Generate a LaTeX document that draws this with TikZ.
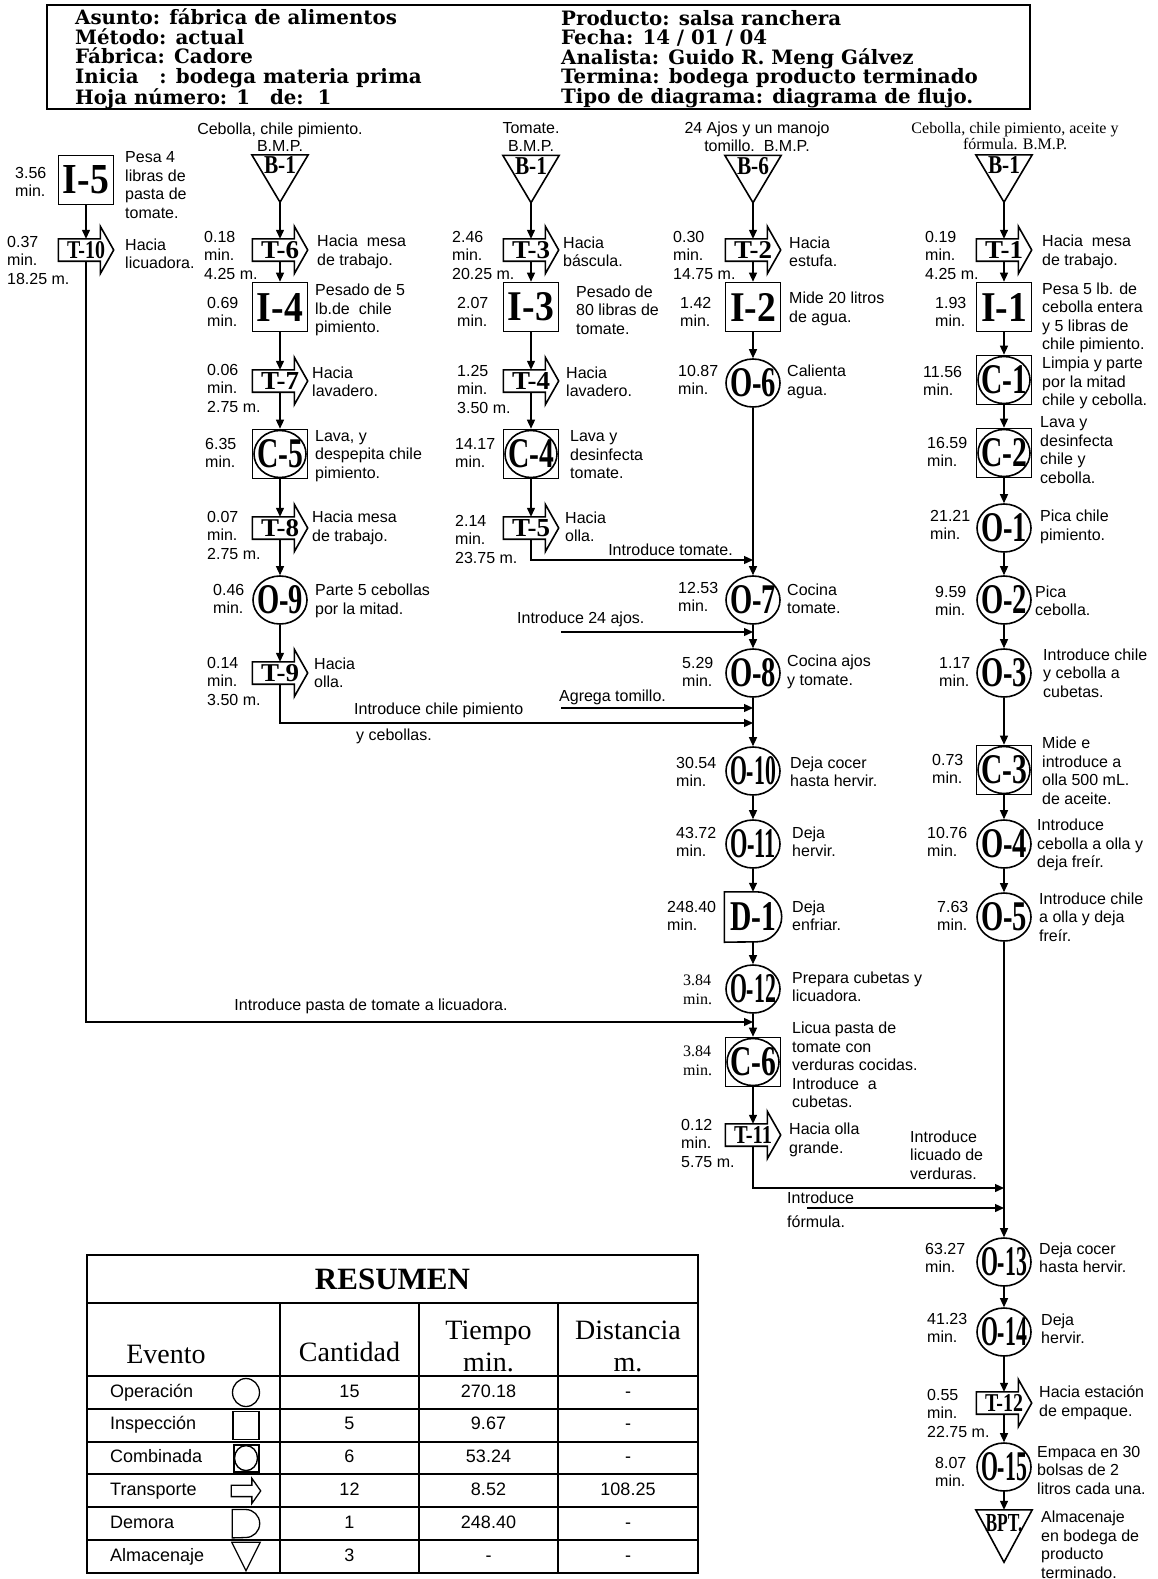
\documentclass[tikz,border=0pt]{standalone}
\usepackage{fontspec}
\usepackage{graphicx}
\setmainfont{Liberation Sans}
\newfontfamily\tnr{Liberation Serif}
\newfontfamily\hdrfont{DejaVu Serif}
\usetikzlibrary{shapes.geometric, arrows.meta, positioning, calc}
\newcommand{\lbl}{\fontsize{16}{18.5}\selectfont}
\newcommand{\lbls}{\tnr\fontsize{16}{19}\selectfont}
\newcommand{\capfont}{\fontsize{16}{17.5}\selectfont}
\newcommand{\capsfont}{\tnr\fontsize{16}{15.5}\selectfont}
\newcommand{\hdrsize}{\hdrfont\bfseries\fontsize{19.8}{19.5}\selectfont}
\newcommand{\tabbody}{\fontsize{18}{20}\selectfont}
\newcommand{\tabhead}{\tnr\fontsize{28}{32}\selectfont}
\newcommand{\tabtitle}{\tnr\bfseries\fontsize{31}{34}\selectfont}
\newcommand{\symT}[1]{\resizebox{38pt}{17pt}{\tnr\bfseries #1}}
\newcommand{\symB}[1]{\makebox[0pt]{\resizebox{46pt}{28pt}{\tnr\bfseries #1}}}
\newcommand{\symS}[2][32pt]{\raisebox{0pt}[17pt][27pt]{\resizebox{#1}{17pt}{\tnr\bfseries #2}}}

\begin{document}
\begin{tikzpicture}[x=1pt, y=1pt,
		flow/.style={-{Triangle[length=9pt, width=8pt]}, line width=1.3pt},
		shp/.style={draw, line width=1.6pt, inner sep=0pt},
		insp/.style={shp, rectangle, minimum width=55pt, minimum height=49pt},
		oper/.style={shp, ellipse, minimum width=54pt, minimum height=48pt},
		comb/.style={insp, path picture={\draw[line width=1.6pt]
				(path picture bounding box.center) ellipse [x radius=26pt, y radius=23.5pt];}},
		combs/.style={insp, minimum width=25pt, minimum height=27pt, line width=2pt,
			path picture={\draw[line width=1.4pt]
				(path picture bounding box.center) ellipse [x radius=11.5pt, y radius=12.5pt];}},
		trans/.style={rectangle, inner sep=0pt, minimum width=55pt, minimum height=22pt},
		delay/.style={rectangle, inner sep=0pt, minimum width=57pt, minimum height=50pt},
		store/.style={rectangle, inner sep=0pt, minimum width=56pt, minimum height=47pt},
		outl/.style={line width=1.6pt, line join=miter},
		tm/.style={anchor=west, align=left, inner sep=0pt, font=\lbl},
		tms/.style={tm, font=\lbls},
		ds/.style={anchor=west, align=left, inner sep=0pt, font=\lbl},
		colcap/.style={align=center, inner sep=0pt, font=\capfont},
		note/.style={inner sep=0pt, font=\lbl},
		hdr/.style={anchor=west, align=left, inner sep=0pt, font=\hdrsize},
		tbl/.style={line width=1.6pt},
		tb/.style={inner sep=0pt, font=\tabbody, text height=13pt, text depth=4pt},
		th/.style={inner sep=0pt, align=center, font=\tabhead},
		]
		\useasboundingbox (0,0) rectangle (1157,-1579);
		% ── Header ───────────────────────────────────────────────────────────────────
		\node[draw, line width=1.8pt, inner sep=0pt, minimum width=983pt, minimum height=104pt] (hbox) at (538.5,-57) {};
		\node[hdr] (hleft)  at (75,-59)  {Asunto: fábrica de alimentos\\Método: actual\\Fábrica: Cadore\\Inicia\ \ \ : bodega materia prima\\Hoja número: 1\quad de:\ \ 1};
		\node[hdr] (hright) at (561,-59) {Producto: salsa ranchera\\Fecha: 14 / 01 / 04\\Analista: Guido R. Meng Gálvez\\Termina: bodega producto terminado\\Tipo de diagrama: diagrama de flujo.};
		% ── Column A: pasta de tomate ────────────────────────────────────────────────
		\node[insp]  (i5)  at (86,-180)  {\symB{I-5}};
		\node[trans] (t10) at (86,-250)  {\symT{T-10}};
		% ── Column B: cebolla, chile pimiento ────────────────────────────────────────
		\node[colcap] (capb) at (280,-137) {Cebolla, chile pimiento.\\B.M.P.};
		\node[store] (b1b) at (280,-178.5) {\symS{B-1}};
		\node[trans] (t6)  at (280,-250) {\symT{T-6}};
		\node[insp]  (i4)  at (280,-307) {\symB{I-4}};
		\node[trans] (t7)  at (280,-381) {\symT{T-7}};
		\node[comb]  (c5)  at (280,-454) {\symB{C-5}};
		\node[trans] (t8)  at (280,-528) {\symT{T-8}};
		\node[oper]  (o9)  at (280,-600) {\symB{O-9}};
		\node[trans] (t9)  at (280,-673) {\symT{T-9}};
		% ── Column C: tomate ─────────────────────────────────────────────────────────
		\node[colcap] (capc) at (531,-137) {Tomate.\\B.M.P.};
		\node[store] (b1c) at (531,-179) {\symS{B-1}};
		\node[trans] (t3)  at (531,-250) {\symT{T-3}};
		\node[insp]  (i3)  at (531,-307) {\symB{I-3}};
		\node[trans] (t4)  at (531,-381) {\symT{T-4}};
		\node[comb]  (c4)  at (531,-454) {\symB{C-4}};
		\node[trans] (t5)  at (531,-528) {\symT{T-5}};
		% ── Column D: ajos, agua, cocción ────────────────────────────────────────────
		\node[colcap] (capd) at (757,-137) {24 Ajos y un manojo\\tomillo.\ \ B.M.P.};
		\node[store] (b6)  at (753,-179)  {\symS{B-6}};
		\node[trans] (t2)  at (753,-250)  {\symT{T-2}};
		\node[insp]  (i2)  at (753,-307)  {\symB{I-2}};
		\node[oper]  (o6)  at (753,-383)  {\symB{O-6}};
		\node[oper]  (o7)  at (753,-600)  {\symB{O-7}};
		\node[oper]  (o8)  at (753,-673)  {\symB{O-8}};
		\node[oper]  (o10) at (753,-771)  {\symB{O-10}};
		\node[oper]  (o11) at (753,-844)  {\symB{O-11}};
		\node[delay] (d1)  at (753,-917)  {\symB{D-1}};
		\node[oper]  (o12) at (753,-989)  {\symB{O-12}};
		\node[comb]  (c6)  at (753,-1062) {\symB{C-6}};
		\node[trans] (t11) at (753,-1135) {\symT{T-11}};
		% ── Column E: sofrito y envasado ─────────────────────────────────────────────
		\node[colcap, font=\capsfont] (cape) at (1015,-136) {Cebolla, chile pimiento, aceite y\\fórmula. B.M.P.};
		\node[store] (b1e) at (1004,-178.5) {\symS{B-1}};
		\node[trans] (t1)  at (1004,-250)  {\symT{T-1}};
		\node[insp]  (i1)  at (1004,-307)  {\symB{I-1}};
		\node[comb]  (c1)  at (1004,-380)  {\symB{C-1}};
		\node[comb]  (c2)  at (1004,-453)  {\symB{C-2}};
		\node[oper]  (o1)  at (1004,-528)  {\symB{O-1}};
		\node[oper]  (o2)  at (1004,-600)  {\symB{O-2}};
		\node[oper]  (o3)  at (1004,-673)  {\symB{O-3}};
		\node[comb]  (c3)  at (1004,-770)  {\symB{C-3}};
		\node[oper]  (o4)  at (1004,-844)  {\symB{O-4}};
		\node[oper]  (o5)  at (1004,-917)  {\symB{O-5}};
		\node[oper]  (o13) at (1004,-1262) {\symB{O-13}};
		\node[oper]  (o14) at (1004,-1332) {\symB{O-14}};
		\node[trans] (t12) at (1004,-1403) {\symT{T-12}};
		\node[oper]  (o15) at (1004,-1467) {\symB{O-15}};
		\node[store, minimum height=52pt] (bpt) at (1004,-1536) {\symS[37pt]{BPT.}};
		% ── Symbol outlines (transport, storage, delay) ──────────────────────────────
		\foreach \n in {t1,t2,t3,t4,t5,t6,t7,t8,t9,t10,t11,t12} {
			\coordinate (ht) at ($(\n.north west)!0.76!(\n.north east)$);
			\coordinate (hb) at ($(\n.south west)!0.76!(\n.south east)$);
			\draw[outl] (\n.north west) -- (ht) -- ($(ht)!-0.55!(hb)$) -- (\n.east)
			-- ($(hb)!-0.55!(ht)$) -- (hb) -- (\n.south west) -- cycle;
		}
		\foreach \n in {b1b,b1c,b6,b1e,bpt}
		\draw[outl] (\n.north west) -- (\n.north east) -- (\n.south) -- cycle;
		\draw[outl] (d1.south west) -- (d1.north west) -- ([xshift=-25pt]d1.north east)
		arc[start angle=90, end angle=-90, radius=25pt] -- cycle;
		% ── Junctions of the side flows ──────────────────────────────────────────────
		\coordinate (jpas) at (753,-1022);
		\coordinate (jchi) at (753,-723);
		\coordinate (jtom) at (753,-560);
		\coordinate (jlic) at (1004,-1188);
		\coordinate (sajo) at (561,-632);  \coordinate (jajo) at (753,-632);
		\coordinate (stmo) at (561,-708);  \coordinate (jtmo) at (753,-708);
		\coordinate (sfor) at (807,-1208); \coordinate (jfor) at (1004,-1208);
		% ── Main vertical arrows ─────────────────────────────────────────────────────
		\foreach \x/\y in {i5/t10, b1b/t6, t6/i4, i4/t7, t7/c5, c5/t8, t8/o9, o9/t9,
			b1c/t3, t3/i3, i3/t4, t4/c4, c4/t5,
			b6/t2, t2/i2, i2/o6, o6/o7, o7/o8, o8/o10, o10/o11, o11/d1, d1/o12, o12/c6, c6/t11,
			b1e/t1, t1/i1, i1/c1, c1/c2, c2/o1, o1/o2, o2/o3, o3/c3, c3/o4, o4/o5,
			o5/o13, o13/o14, o14/t12, t12/o15, o15/bpt}
		\draw[flow] (\x) -- (\y);
		% ── Side flows ───────────────────────────────────────────────────────────────
		\draw[flow] (t10) |- (jpas);
		\draw[flow] (t9)  |- (jchi);
		\draw[flow] (t5)  |- (jtom);
		\draw[flow] (t11) |- (jlic);
		\draw[flow] (sajo) -- (jajo);
		\draw[flow] (stmo) -- (jtmo);
		\draw[flow] (sfor) -- (jfor);
		\node[note] (npas) at (371,-1006) {Introduce pasta de tomate a licuadora.};
		\node[note, anchor=west] (nchi1) at (354,-710) {Introduce chile pimiento};
		\node[note, anchor=west] (nchi2) at (356,-736) {y cebollas.};
		\node[note, anchor=east] (ntom)  at (733,-550) {Introduce tomate.};
		\node[note, anchor=west] (najo)  at (517,-619) {Introduce 24 ajos.};
		\node[note, anchor=west] (ntmo)  at (559,-697) {Agrega tomillo.};
		\node[note, anchor=west, align=left] (nlic) at (910,-1155) {Introduce\\licuado de\\verduras.};
		\node[note, anchor=west] (nfor1) at (787,-1198) {Introduce};
		\node[note, anchor=west] (nfor2) at (787,-1222) {fórmula.};
		% ── Times / distances (left of each symbol) ──────────────────────────────────
		\node[tm] (li5)  at (15,-182)  {3.56\\min.};
		\node[tm] (lt10) at (7,-260)   {0.37\\min.\\18.25 m.};
		\node[tm] (lt6)  at (204,-255) {0.18\\min.\\4.25 m.};
		\node[tm] (li4)  at (207,-312) {0.69\\min.};
		\node[tm] (lt7)  at (207,-388) {0.06\\min.\\2.75 m.};
		\node[tm] (lc5)  at (205,-453) {6.35\\min.};
		\node[tm] (lt8)  at (207,-535) {0.07\\min.\\2.75 m.};
		\node[tm] (lo9)  at (213,-599) {0.46\\min.};
		\node[tm] (lt9)  at (207,-681) {0.14\\min.\\3.50 m.};
		\node[tm] (lt3)  at (452,-255) {2.46\\min.\\20.25 m.};
		\node[tm] (li3)  at (457,-312) {2.07\\min.};
		\node[tm] (lt4)  at (457,-389) {1.25\\min.\\3.50 m.};
		\node[tm] (lc4)  at (455,-453) {14.17\\min.};
		\node[tm] (lt5)  at (455,-539) {2.14\\min.\\23.75 m.};
		\node[tm] (lt2)  at (673,-255) {0.30\\min.\\14.75 m.};
		\node[tm] (li2)  at (680,-312) {1.42\\min.};
		\node[tm] (lo6)  at (678,-380) {10.87\\min.};
		\node[tm] (lo7)  at (678,-597) {12.53\\min.};
		\node[tm] (lo8)  at (682,-672) {5.29\\min.};
		\node[tm] (lo10) at (676,-772) {30.54\\min.};
		\node[tm] (lo11) at (676,-842) {43.72\\min.};
		\node[tm] (ld1)  at (667,-916) {248.40\\min.};
		\node[tms] (lo12) at (683,-990)  {3.84\\min.};
		\node[tms] (lc6)  at (683,-1061) {3.84\\min.};
		\node[tm] (lt11) at (681,-1143) {0.12\\min.\\5.75 m.};
		\node[tm] (lt1)  at (925,-255) {0.19\\min.\\4.25 m.};
		\node[tm] (li1)  at (935,-312) {1.93\\min.};
		\node[tm] (lc1)  at (923,-381) {11.56\\min.};
		\node[tm] (lc2)  at (927,-452) {16.59\\min.};
		\node[tm] (lo1)  at (930,-525) {21.21\\min.};
		\node[tm] (lo2)  at (935,-601) {9.59\\min.};
		\node[tm] (lo3)  at (939,-672) {1.17\\min.};
		\node[tm] (lc3)  at (932,-769) {0.73\\min.};
		\node[tm] (lo4)  at (927,-842) {10.76\\min.};
		\node[tm] (lo5)  at (937,-916) {7.63\\min.};
		\node[tm] (lo13) at (925,-1258) {63.27\\min.};
		\node[tm] (lo14) at (927,-1328) {41.23\\min.};
		\node[tm] (lt12) at (927,-1413) {0.55\\min.\\22.75 m.};
		\node[tm] (lo15) at (935,-1472) {8.07\\min.};
		% ── Descriptions (right of each symbol) ──────────────────────────────────────
		\node[ds] (di5)  at (125,-185) {Pesa 4\\libras de\\pasta de\\tomate.};
		\node[ds] (dt10) at (125,-254) {Hacia\\licuadora.};
		\node[ds] (dt6)  at (317,-252) {Hacia\ \ mesa\\de trabajo.};
		\node[ds] (di4)  at (315,-310) {Pesado de 5\\lb.de\ \ chile\\pimiento.};
		\node[ds] (dt7)  at (312,-382) {Hacia\\lavadero.};
		\node[ds] (dc5)  at (315,-456) {Lava, y\\despepita chile\\pimiento.};
		\node[ds] (dt8)  at (312,-528) {Hacia mesa\\de trabajo.};
		\node[ds] (do9)  at (315,-601) {Parte 5 cebollas\\por la mitad.};
		\node[ds] (dt9)  at (314,-673) {Hacia\\olla.};
		\node[ds] (dt3)  at (563,-252) {Hacia\\báscula.};
		\node[ds] (di3)  at (576,-310) {Pesado de\\80 libras de\\tomate.};
		\node[ds] (dt4)  at (566,-382) {Hacia\\lavadero.};
		\node[ds] (dc4)  at (570,-455) {Lava y\\desinfecta\\tomate.};
		\node[ds] (dt5)  at (565,-527) {Hacia\\olla.};
		\node[ds] (dt2)  at (789,-252) {Hacia\\estufa.};
		\node[ds] (di2)  at (789,-309) {Mide 20 litros\\de agua.};
		\node[ds] (do6)  at (787,-382) {Calienta\\agua.};
		\node[ds] (do7)  at (787,-599) {Cocina\\tomate.};
		\node[ds] (do8)  at (787,-672) {Cocina ajos\\y tomate.};
		\node[ds] (do10) at (790,-772) {Deja cocer\\hasta hervir.};
		\node[ds] (do11) at (792,-842) {Deja\\hervir.};
		\node[ds] (dd1)  at (792,-916) {Deja\\enfriar.};
		\node[ds] (do12) at (792,-987) {Prepara cubetas y\\licuadora.};
		\node[ds] (dc6)  at (792,-1065) {Licua pasta de\\tomate con\\verduras cocidas.\\Introduce\ \ a\\cubetas.};
		\node[ds] (dt11) at (789,-1140) {Hacia olla\\grande.};
		\node[ds] (dt1)  at (1042,-252) {Hacia\ \ mesa\\de trabajo.};
		\node[ds] (di1)  at (1042,-318) {Pesa 5 lb. de\\cebolla entera\\y 5 libras de\\chile pimiento.};
		\node[ds] (dc1)  at (1042,-383) {Limpia y parte\\por la mitad\\chile y cebolla.};
		\node[ds] (dc2)  at (1040,-450) {Lava y\\desinfecta\\chile y\\cebolla.};
		\node[ds] (do1)  at (1040,-527) {Pica chile\\pimiento.};
		\node[ds] (do2)  at (1035,-601) {Pica\\cebolla.};
		\node[ds] (do3)  at (1043,-673) {Introduce chile\\y cebolla a\\cubetas.};
		\node[ds] (dc3)  at (1042,-771) {Mide e\\introduce a\\olla 500 mL.\\de aceite.};
		\node[ds] (do4)  at (1037,-845) {Introduce\\cebolla a olla y\\deja freír.};
		\node[ds] (do5)  at (1039,-917) {Introduce chile\\a olla y deja\\freír.};
		\node[ds] (do13) at (1039,-1258) {Deja cocer\\hasta hervir.};
		\node[ds] (do14) at (1041,-1329) {Deja\\hervir.};
		\node[ds] (dt12) at (1039,-1403) {Hacia estación\\de empaque.};
		\node[ds] (do15) at (1037,-1470) {Empaca en 30\\bolsas de 2\\litros cada una.};
		\node[ds] (dbpt) at (1041,-1545) {Almacenaje\\en bodega de\\producto\\terminado.};
		% ── Summary table ────────────────────────────────────────────────────────────
		\draw[tbl] (87,-1255) rectangle (698,-1573);
		\draw[tbl] (87,-1303) -- (698,-1303);
		\foreach \y in {1376,1409,1442,1474,1507,1540}
		\draw[tbl] (87,-\y) -- (698,-\y);
		\foreach \x in {280,419,558}
		\draw[tbl] (\x,-1303) -- (\x,-1573);
		\node[inner sep=0pt, font=\tabtitle] (ttl) at (392.5,-1279) {RESUMEN};
		\node[th] (hev) at (166,-1354)   {Evento};
		\node[th] (hca) at (349.5,-1352) {Cantidad};
		\node[th] (hti) at (488.5,-1346) {Tiempo\\min.};
		\node[th] (hdi) at (628,-1346)   {Distancia\\m.};
		\foreach \ev/\ca/\ti/\di [count=\k from 0] in {Operación/15/270.18/-, Inspección/5/9.67/-,
			Combinada/6/53.24/-, Transporte/12/8.52/108.25, Demora/1/248.40/-, Almacenaje/3/-/-} {
			\node[tb, anchor=west] (ev\k) at (110,{-1392.5-32.8*\k}) {\ev};
			\node[tb] (ca\k) at (349.5,{-1392.5-32.8*\k}) {\ca};
			\node[tb] (ti\k) at (488.5,{-1392.5-32.8*\k}) {\ti};
			\node[tb] (di\k) at (628,{-1392.5-32.8*\k}) {\di};
		}
		% ── Table symbols ────────────────────────────────────────────────────────────
		\node[oper, minimum width=27pt, minimum height=28pt, line width=1.3pt] (oic) at (246,-1392.5) {};
		\node[insp, minimum width=26pt, minimum height=28pt, line width=1.3pt] (iic) at (246,-1425.3) {};
		\node[combs] (cic) at (246,-1458.1) {};
		\node[trans, minimum width=29pt, minimum height=11pt] (tic) at (246,-1490.9) {};
		\node[delay, minimum width=27pt, minimum height=28pt] (dic) at (246,-1523.7) {};
		\node[store, minimum width=28pt, minimum height=28pt] (sic) at (246,-1556.5) {};
		\coordinate (ht) at ($(tic.north west)!0.7!(tic.north east)$);
		\coordinate (hb) at ($(tic.south west)!0.7!(tic.south east)$);
		\draw[line width=1.3pt, line join=miter] (tic.north west) -- (ht) -- ($(ht)!-0.6!(hb)$) -- (tic.east)
		-- ($(hb)!-0.6!(ht)$) -- (hb) -- (tic.south west) -- cycle;
		\draw[line width=1.3pt] (dic.south west) -- (dic.north west) -- ([xshift=-14pt]dic.north east)
		arc[start angle=90, end angle=-90, radius=14pt] -- cycle;
		\draw[line width=1.3pt, line join=miter] (sic.north west) -- (sic.north east) -- (sic.south) -- cycle;
	\end{tikzpicture}
\end{document}
